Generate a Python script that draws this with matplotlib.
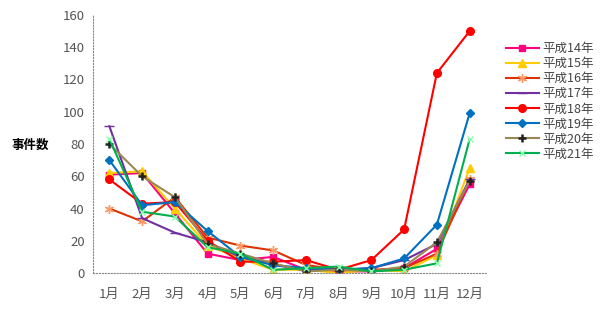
"""Monthly incident counts, H14-H21."""

import matplotlib
matplotlib.use("Agg")
import matplotlib.pyplot as plt
import numpy as np

plt.rcParams["font.family"] = ["Noto Sans CJK JP", "DejaVu Sans"]

months = ["1月", "2月", "3月", "4月", "5月", "6月", "7月", "8月", "9月", "10月", "11月", "12月"]
series_names = ["平成14年", "平成15年", "平成16年", "平成17年", "平成18年", "平成19年", "平成20年", "平成21年"]

h14 = [61, 62, 37, 12, 8, 10, 2, 1, 1, 3, 15, 55]
h15 = [62, 63, 40, 17, 9, 2, 2, 0, 2, 1, 11, 65]
h16 = [40, 32, 47, 22, 17, 14, 5, 2, 2, 3, 12, 58]
h17 = [91, 34, 25, 19, 10, 5, 2, 2, 3, 8, 18, 58]
h18 = [58, 43, 44, 20, 7, 7, 8, 2, 8, 27, 124, 150]
h19 = [70, 42, 44, 26, 10, 5, 3, 2, 3, 9, 30, 99]
h20 = [80, 60, 47, 18, 12, 6, 1, 2, 1, 4, 19, 57]
h21 = [83, 38, 35, 16, 12, 2, 3, 4, 1, 2, 6, 83]

values = [h14, h15, h16, h17, h18, h19, h20, h21]
styles = [
    dict(color="#FF0080", marker="s", mfc="#FF0080", mec="#FF0080", ms=5),
    dict(color="#FFCC00", marker="^", mfc="#FFCC00", mec="#FFCC00", ms=5.5),
    dict(color="#DD3300", marker=(6, 2, 0), mfc="#FF9966", mec="#FF9966", ms=6.5, mew=1),
    dict(color="#7030A0", marker="_", mfc="#7030A0", mec="#7030A0", ms=7),
    dict(color="#FF0000", marker="o", mfc="#FF0000", mec="#FF0000", ms=5.5),
    dict(color="#0070C0", marker="D", mfc="#0070C0", mec="#0070C0", ms=4),
    dict(color="#998855", marker="+", mfc="#222222", mec="#222222", ms=6, mew=1.8),
    dict(color="#00B050", marker="x", mfc="#88FFAA", mec="#88FFAA", ms=5),
]

fig = plt.figure(figsize=(6.07, 3.21), dpi=100)
ax = fig.add_axes([93 / 607, 1 - 273 / 321, (486 - 93) / 607, (273 - 15) / 321])

x = np.arange(1, len(months) + 1)
for name, vals, st in zip(series_names, values, styles):
    ax.plot(x, vals, lw=1.5, label=name, **st)

ax.set_xlim(0.5, 12.5)
ax.set_ylim(0, 160)
ax.set_yticks(range(0, 161, 20))
ax.set_xticks(x)
ax.set_xticklabels(months)
ax.tick_params(length=0, labelsize=9.5, labelcolor="#555555", pad=6)
ax.tick_params(axis="x", pad=11)
for s in ["top", "right"]:
    ax.spines[s].set_visible(False)
for s in ["left", "bottom"]:
    ax.spines[s].set_linestyle(":")
    ax.spines[s].set_color("#888888")
    ax.spines[s].set_linewidth(0.8)

fig.text(30 / 607, 1 - 145 / 321, "事件数", fontsize=9, fontweight="bold",
         ha="center", va="center")

ax.legend(loc="upper left", bbox_to_anchor=(1.035, 0.92), frameon=False,
          fontsize=9, handlelength=2.6, labelspacing=0.17, borderpad=0,
          handletextpad=0.3, labelcolor="#444444")

fig.savefig("out.png", dpi=100)
